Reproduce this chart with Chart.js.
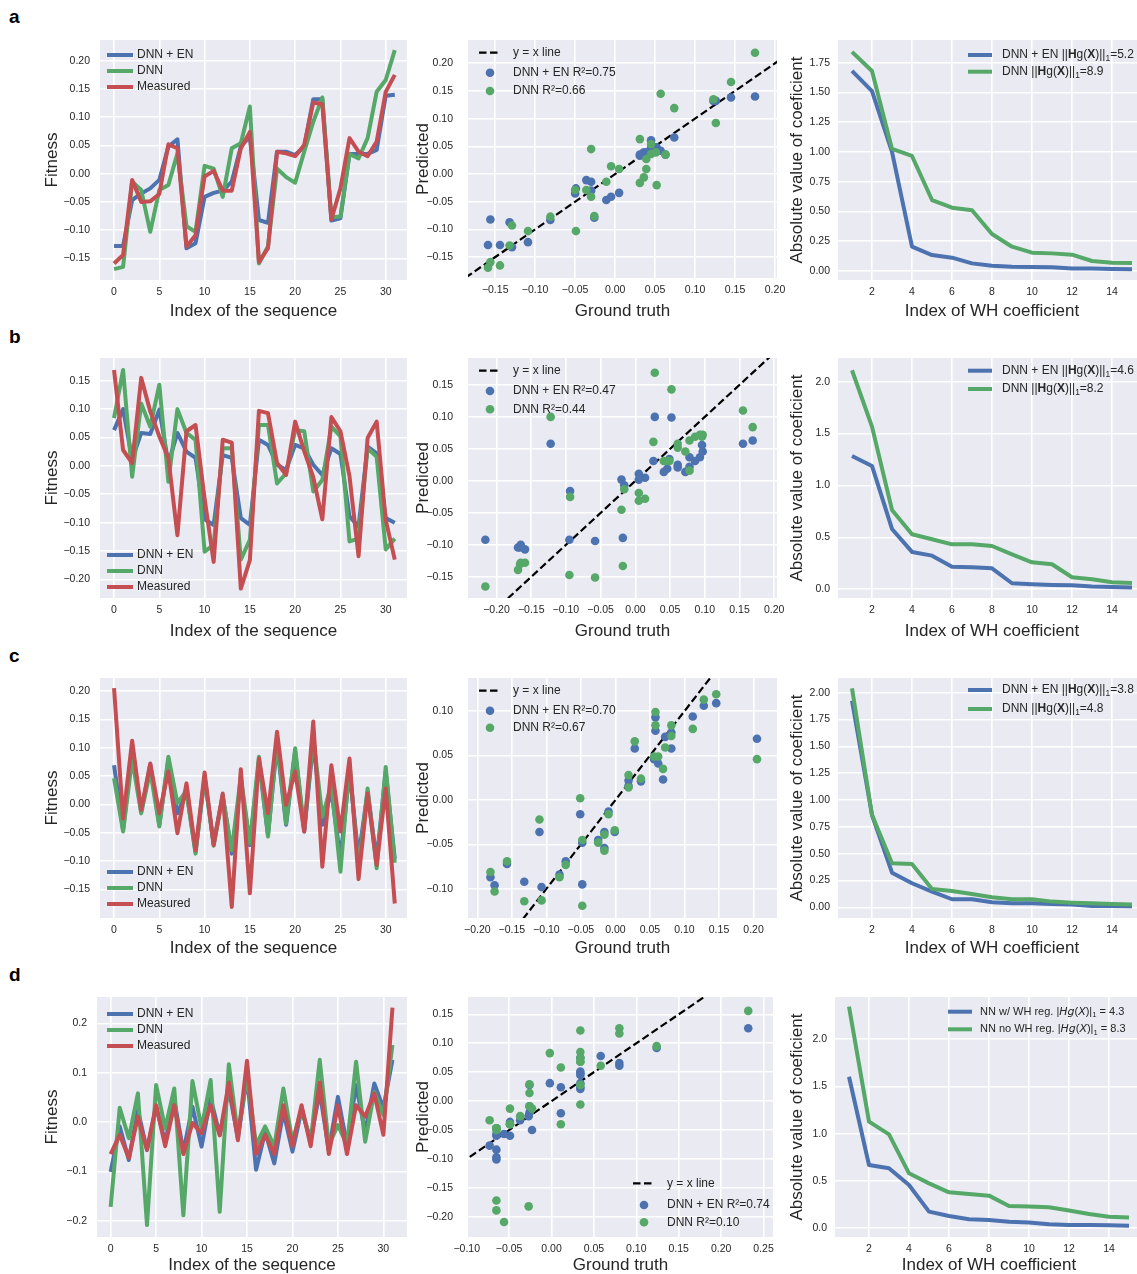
<!DOCTYPE html>
<html>
<head>
<meta charset="utf-8">
<script src="https://cdn.jsdelivr.net/npm/chart.js@4.4.1/dist/chart.umd.min.js"></script>
<style>
  html, body { margin: 0; padding: 0; background: #fff; overflow: hidden; }
  #fig { position: relative; width: 1137px; height: 1274px; overflow: hidden; }
  .tag { position: absolute; font: bold 19px "Liberation Sans", Arial, sans-serif; line-height: 19px; color: #000; }
  canvas { position: absolute; }
</style>
</head>
<body>
<div id="fig">
  <div class="tag" style="left:9px;top:7px">a</div>
  <div class="tag" style="left:9px;top:327px">b</div>
  <div class="tag" style="left:9px;top:646px">c</div>
  <div class="tag" style="left:9px;top:965px">d</div>
</div>
<script>
// ---- data ----
const seqIdx = [0,1,2,3,4,5,6,7,8,9,10,11,12,13,14,15,16,17,18,19,20,21,22,23,24,25,26,27,28,29,30,31];
const whIdx = [1,2,3,4,5,6,7,8,9,10,11,12,13,14,15];

// panel a
const measA = [-0.159,-0.144,-0.011,-0.050,-0.049,-0.036,0.052,0.045,-0.129,-0.109,-0.005,0.005,-0.030,-0.030,0.045,0.074,-0.156,-0.132,0.039,0.036,0.031,0.051,0.126,0.123,-0.081,-0.026,0.063,0.039,0.031,0.057,0.145,0.175];
const enA = [-0.128,-0.128,-0.047,-0.035,-0.026,-0.011,0.048,0.061,-0.132,-0.123,-0.041,-0.034,-0.030,-0.014,0.048,0.066,-0.082,-0.087,0.039,0.039,0.033,0.048,0.132,0.132,-0.083,-0.079,0.035,0.035,0.035,0.042,0.138,0.140];
const dnnA = [-0.169,-0.165,-0.014,-0.029,-0.103,-0.029,-0.020,0.036,-0.093,-0.103,0.014,0.009,-0.041,0.045,0.054,0.119,-0.159,-0.129,0.009,-0.006,-0.016,0.039,0.092,0.135,-0.077,-0.076,0.035,0.027,0.063,0.145,0.166,0.219];
const whEnA = [1.68,1.51,1.00,0.204,0.134,0.112,0.064,0.045,0.036,0.034,0.031,0.020,0.020,0.017,0.014];
const whDnnA = [1.84,1.68,1.025,0.966,0.596,0.532,0.510,0.311,0.204,0.154,0.148,0.137,0.084,0.070,0.067];

// panel b
const measB = [0.169,0.028,0.005,0.155,0.096,0.052,0.014,-0.122,0.061,0.072,-0.058,-0.169,0.046,0.041,-0.216,-0.166,0.097,0.093,0.005,-0.016,0.078,0.026,-0.020,-0.094,0.086,0.061,-0.018,-0.159,0.049,0.078,-0.095,-0.165];
const enB = [0.063,0.100,0.011,0.058,0.056,0.099,0.005,0.058,0.025,0.014,-0.094,-0.104,0.019,0.014,-0.092,-0.104,0.046,0.037,0.002,-0.007,0.037,0.031,0.002,-0.016,0.031,0.021,-0.089,-0.107,0.034,0.022,-0.092,-0.100];
const dnnB = [0.084,0.169,-0.019,0.110,0.069,0.143,-0.028,0.100,0.058,0.046,-0.151,-0.139,0.031,0.031,-0.165,-0.130,0.072,0.072,-0.031,-0.013,0.063,0.061,-0.045,-0.025,0.069,0.052,-0.133,-0.128,0.031,0.016,-0.147,-0.128];
const whEnB = [1.284,1.188,0.581,0.360,0.324,0.218,0.212,0.202,0.058,0.048,0.042,0.039,0.026,0.022,0.016];
const whDnnB = [2.11,1.567,0.764,0.530,0.482,0.433,0.433,0.417,0.337,0.260,0.241,0.116,0.096,0.067,0.061];

// panel c
const measC = [0.205,-0.025,0.112,-0.010,0.072,-0.016,0.058,-0.051,0.037,-0.081,0.056,-0.072,0.019,-0.181,0.062,-0.157,0.081,-0.016,0.128,-0.001,0.058,-0.048,0.146,-0.110,0.069,-0.048,0.081,-0.132,0.019,-0.107,0.028,-0.175];
const enC = [0.069,-0.045,0.094,-0.013,0.071,-0.036,0.078,-0.016,0.021,-0.084,0.046,-0.069,0.016,-0.087,0.041,-0.072,0.076,-0.054,0.106,-0.036,0.093,-0.048,0.109,-0.036,0.023,-0.095,0.058,-0.092,0.022,-0.098,0.058,-0.096];
const dnnC = [0.046,-0.048,0.080,-0.016,0.059,-0.039,0.084,0.002,0.024,-0.087,0.049,-0.073,0.014,-0.081,0.049,-0.069,0.084,-0.057,0.113,-0.034,0.099,-0.045,0.119,-0.022,0.035,-0.119,0.072,-0.114,0.028,-0.113,0.066,-0.103];
const whEnC = [1.925,0.860,0.323,0.224,0.146,0.075,0.075,0.047,0.037,0.037,0.031,0.025,0.012,0.012,0.009];
const whDnnC = [2.04,0.860,0.410,0.404,0.171,0.152,0.124,0.093,0.075,0.075,0.053,0.043,0.037,0.031,0.025];

// panel d
const measD = [-0.065,-0.026,-0.073,0.011,-0.056,0.034,-0.049,0.034,-0.065,-0.002,-0.023,0.034,-0.027,0.080,-0.037,0.124,-0.065,-0.026,-0.065,0.034,-0.049,0.034,-0.049,0.080,-0.065,0.034,-0.065,0.034,0.011,0.058,-0.026,0.232];
const enD = [-0.101,-0.009,-0.077,0.024,-0.057,0.031,-0.040,0.045,-0.060,0.031,-0.050,0.048,-0.026,0.066,-0.033,0.092,-0.097,-0.020,-0.084,0.021,-0.060,0.024,-0.036,0.061,-0.057,0.051,-0.047,0.075,-0.021,0.078,0.028,0.126];
const dnnD = [-0.172,0.029,-0.033,0.058,-0.209,0.075,-0.013,0.068,-0.189,0.083,-0.013,0.085,-0.182,0.117,-0.026,0.095,-0.047,-0.009,-0.050,0.068,-0.040,0.028,-0.040,0.126,-0.047,-0.006,-0.047,0.122,-0.040,0.061,0.014,0.156];
const whEnD = [1.602,0.669,0.634,0.458,0.176,0.130,0.095,0.088,0.070,0.060,0.042,0.035,0.035,0.032,0.028];
const whDnnD = [2.342,1.127,0.993,0.581,0.475,0.380,0.363,0.345,0.236,0.229,0.222,0.187,0.151,0.123,0.113];

// y = x reference line end points
const diagLine = [-0.3, 0.3];

// tick labels
const seqTicks = [0,5,10,15,20,25,30];
const whTicks = [2,4,6,8,10,12,14];
const fitTicksA = [-0.15,-0.10,-0.05,0,0.05,0.10,0.15,0.20];
const fitTicksB = [-0.20,-0.15,-0.10,-0.05,0,0.05,0.10,0.15];
const fitTicksC = [-0.15,-0.10,-0.05,0,0.05,0.10,0.15,0.20];
const fitTicksD = [-0.2,-0.1,0,0.1,0.2];
const gtTicksA = [-0.15,-0.10,-0.05,0,0.05,0.10,0.15,0.20];
const gtTicksB = [-0.20,-0.15,-0.10,-0.05,0,0.05,0.10,0.15,0.20];
const gtTicksC = [-0.20,-0.15,-0.10,-0.05,0,0.05,0.10,0.15,0.20];
const gtTicksD = [-0.10,-0.05,0,0.05,0.10,0.15,0.20,0.25];
const predTicksA = [-0.15,-0.10,-0.05,0,0.05,0.10,0.15,0.20];
const predTicksB = [-0.15,-0.10,-0.05,0,0.05,0.10,0.15];
const predTicksC = [-0.10,-0.05,0,0.05,0.10];
const predTicksD = [-0.20,-0.15,-0.10,-0.05,0,0.05,0.10,0.15];
const absTicksA = [0,0.25,0.5,0.75,1,1.25,1.5,1.75];
const absTicksB = [0,0.5,1,1.5,2];
const absTicksC = [0,0.25,0.5,0.75,1,1.25,1.5,1.75,2];
const absTicksD = [0,0.5,1,1.5,2];

// ---- styling ----
const BLUE = '#4C72B0', GREEN = '#55A868', RED = '#C44E52', BG = '#EAEAF2', INK = '#262626';
const FAMILY = '"Liberation Sans", Arial, Helvetica, sans-serif';
const fig = document.getElementById('fig');

function fmt(dec) {
  return v => (v < 0 ? '\u2212' : '') + Math.abs(v).toFixed(dec);
}
function pts(xs, ys) {
  return ys.map((y, i) => ({x: xs[i], y: y}));
}

// plot background
const bgPlugin = {
  id: 'bg',
  beforeDraw(chart) {
    const a = chart.chartArea, ctx = chart.ctx;
    ctx.save();
    ctx.fillStyle = BG;
    ctx.fillRect(a.left, a.top, a.right - a.left, a.bottom - a.top);
    ctx.restore();
  }
};

// text with **bold**, *italic* and _1 subscript
function drawRich(ctx, src, x, y, size) {
  const re = /\*\*(.+?)\*\*|\*(.+?)\*|_(\w)|([^*_]+)/g;
  let m;
  while ((m = re.exec(src))) {
    let font = size + 'px ' + FAMILY, dy = 0, text;
    if (m[1]) { text = m[1]; font = 'bold ' + size + 'px ' + FAMILY; }
    else if (m[2]) { text = m[2]; font = 'italic ' + size + 'px "DejaVu Sans", sans-serif'; }
    else if (m[3]) { text = m[3]; font = (size * 0.7) + 'px ' + FAMILY; dy = size * 0.3; }
    else text = m[4];
    ctx.font = font;
    ctx.fillText(text, x, y + dy);
    x += ctx.measureText(text).width;
  }
}

// legend drawn inside the plot area, like matplotlib
const fancyLegend = {
  id: 'fancyLegend',
  afterDraw(chart, args, opts) {
    if (!opts.rows) return;
    const ctx = chart.ctx, a = chart.chartArea;
    ctx.save();
    ctx.textBaseline = 'middle';
    ctx.textAlign = 'left';
    chart.data.datasets.forEach((ds, i) => {
      const y = a.top + opts.rows[i];
      if (ds.kind === 'dot') {
        ctx.fillStyle = ds.backgroundColor;
        ctx.beginPath();
        ctx.arc(a.left + opts.marker, y, ds.pointRadius, 0, Math.PI * 2);
        ctx.fill();
      } else {
        ctx.strokeStyle = ds.borderColor;
        ctx.lineWidth = ds.borderWidth;
        ctx.setLineDash(ds.borderDash || []);
        ctx.beginPath();
        ctx.moveTo(a.left + opts.h0, y);
        ctx.lineTo(a.left + opts.h1, y);
        ctx.stroke();
        ctx.setLineDash([]);
      }
      ctx.fillStyle = INK;
      drawRich(ctx, ds.rich || ds.label, a.left + opts.text, y, opts.size || 12);
    });
    ctx.restore();
  }
};

function axis(a, size, dir) {
  return {
    type: 'linear',
    min: a.min,
    max: a.max,
    grid: {color: '#ffffff', lineWidth: 1.6, drawTicks: false},
    border: {display: false},
    ticks: {
      color: INK, font: {family: FAMILY, size: 10.5}, padding: a.pad,
      autoSkip: false, maxRotation: 0, callback: fmt(a.dec)
    },
    title: {display: true, text: a.title, color: INK, font: {family: FAMILY, size: 17}, padding: 0},
    afterBuildTicks: s => { s.ticks = a.ticks.map(v => ({value: v})); },
    afterFit: s => {
      if (dir === 'x') s.height = size; else s.width = size;
      s.paddingLeft = s.paddingRight = s.paddingTop = s.paddingBottom = 0;
    }
  };
}

function addPanel(p) {
  const cl = Math.round(p.titleX - 10), ct = p.box.t - 12;
  const cw = p.box.r + p.padR - cl;
  const ch = Math.round(p.titleY + 10) - ct;
  const yW = p.box.l - cl, xH = ch - (p.box.b - ct);
  const cv = document.createElement('canvas');
  cv.width = cw;
  cv.height = ch;
  cv.style.left = cl + 'px';
  cv.style.top = ct + 'px';
  fig.appendChild(cv);
  new Chart(cv, {
    type: p.type,
    data: {datasets: p.datasets},
    options: {
      responsive: false,
      animation: false,
      events: [],
      layout: {padding: {top: 12, right: p.padR, left: 0, bottom: 0}},
      plugins: {legend: {display: false}, tooltip: {enabled: false}, fancyLegend: p.legend},
      scales: {x: axis(p.x, xH, 'x'), y: axis(p.y, yW, 'y')}
    },
    plugins: [bgPlugin, fancyLegend]
  });
}

// ---- left column: fitness along the sequence ----
function seqSets(en, dnn, meas) {
  const base = {borderWidth: 4, pointRadius: 0, tension: 0, fill: false, borderJoinStyle: 'round', kind: 'line'};
  return [
    Object.assign({label: 'DNN + EN', data: pts(seqIdx, en), borderColor: BLUE, order: 2}, base),
    Object.assign({label: 'DNN', data: pts(seqIdx, dnn), borderColor: GREEN, order: 1}, base),
    Object.assign({label: 'Measured', data: pts(seqIdx, meas), borderColor: RED, order: 0}, base)
  ];
}
const seqX = {min: -1.55, max: 32.35, ticks: seqTicks, dec: 0, pad: 6, title: 'Index of the sequence'};
addPanel({type: 'line', titleX: 52, titleY: 311.5, padR: 4, box: {l: 100, t: 40, r: 407, b: 280},
  x: seqX, y: {min: -0.1883, max: 0.2368, ticks: fitTicksA, dec: 2, pad: 10, title: 'Fitness'},
  datasets: seqSets(enA, dnnA, measA), legend: {rows: [15, 31, 47], h0: 7, h1: 33, text: 37}});
addPanel({type: 'line', titleX: 52, titleY: 631.5, padR: 4, box: {l: 100, t: 358, r: 407, b: 598},
  x: seqX, y: {min: -0.2326, max: 0.190, ticks: fitTicksB, dec: 2, pad: 10, title: 'Fitness'},
  datasets: seqSets(enB, dnnB, measB), legend: {rows: [197, 213, 229], h0: 7, h1: 33, text: 37}});
addPanel({type: 'line', titleX: 52, titleY: 948.5, padR: 4, box: {l: 100, t: 678, r: 407, b: 918},
  x: seqX, y: {min: -0.2006, max: 0.2229, ticks: fitTicksC, dec: 2, pad: 10, title: 'Fitness'},
  datasets: seqSets(enC, dnnC, measC), legend: {rows: [194, 210, 226], h0: 7, h1: 33, text: 37}});
addPanel({type: 'line', titleX: 52, titleY: 1265.5, padR: 4, box: {l: 97, t: 997, r: 407, b: 1237},
  x: {min: -1.5, max: 32.6, ticks: seqTicks, dec: 0, pad: 6, title: 'Index of the sequence'},
  y: {min: -0.2331, max: 0.2534, ticks: fitTicksD, dec: 1, pad: 10, title: 'Fitness'},
  datasets: seqSets(enD, dnnD, measD), legend: {rows: [17, 33, 49], h0: 10, h1: 36, text: 40}});

// ---- middle column: predicted vs ground truth ----
function scatterSets(meas, en, dnn, r2en, r2dnn) {
  return [
    {type: 'line', label: 'y = x line', data: pts(diagLine, diagLine), borderColor: '#000000', borderWidth: 2.2,
      borderDash: [7.5, 3.5], pointRadius: 0, fill: false, order: 2, kind: 'dash'},
    {label: 'DNN + EN R\u00b2=' + r2en, data: pts(meas, en), backgroundColor: BLUE, borderWidth: 0,
      pointRadius: 4.3, order: 1, kind: 'dot'},
    {label: 'DNN R\u00b2=' + r2dnn, data: pts(meas, dnn), backgroundColor: GREEN, borderWidth: 0,
      pointRadius: 4.3, order: 0, kind: 'dot'}
  ];
}
const midLegend = {h0: 11, h1: 32, marker: 22, text: 45};
addPanel({type: 'scatter', titleX: 423, titleY: 311.5, padR: 12, box: {l: 468, t: 40, r: 777, b: 278},
  x: {min: -0.184, max: 0.2025, ticks: gtTicksA, dec: 2, pad: 6, title: 'Ground truth'},
  y: {min: -0.1877, max: 0.2419, ticks: predTicksA, dec: 2, pad: 15, title: 'Predicted'},
  datasets: scatterSets(measA, enA, dnnA, '0.75', '0.66'), legend: Object.assign({rows: [12.7, 32.7, 51]}, midLegend)});
addPanel({type: 'scatter', titleX: 423, titleY: 631.5, padR: 12, box: {l: 468, t: 358, r: 777, b: 598},
  x: {min: -0.241, max: 0.204, ticks: gtTicksB, dec: 2, pad: 6, title: 'Ground truth'},
  y: {min: -0.183, max: 0.192, ticks: predTicksB, dec: 2, pad: 15, title: 'Predicted'},
  datasets: scatterSets(measB, enB, dnnB, '0.47', '0.44'), legend: Object.assign({rows: [12.7, 33, 51.3]}, midLegend)});
addPanel({type: 'scatter', titleX: 423, titleY: 948.5, padR: 12, box: {l: 468, t: 678, r: 777, b: 918},
  x: {min: -0.2135, max: 0.234, ticks: gtTicksC, dec: 2, pad: 6, title: 'Ground truth'},
  y: {min: -0.1328, max: 0.1373, ticks: predTicksC, dec: 2, pad: 15, title: 'Predicted'},
  datasets: scatterSets(measC, enC, dnnC, '0.70', '0.67'), legend: Object.assign({rows: [12.7, 32.7, 49.7]}, midLegend)});
addPanel({type: 'scatter', titleX: 423, titleY: 1265.5, padR: 12, box: {l: 468, t: 997, r: 773, b: 1237},
  x: {min: -0.0985, max: 0.2612, ticks: gtTicksD, dec: 2, pad: 6, title: 'Ground truth'},
  y: {min: -0.235, max: 0.180, ticks: predTicksD, dec: 2, pad: 15, title: 'Predicted'},
  datasets: scatterSets(measD, enD, dnnD, '0.74', '0.10'),
  legend: {rows: [186.3, 208, 225.3], h0: 165, h1: 187, marker: 176, text: 199}});

// ---- right column: WH coefficients ----
function whSets(en, dnn, labEn, labDnn, richEn, richDnn) {
  const base = {borderWidth: 4, pointRadius: 0, tension: 0, fill: false, borderJoinStyle: 'round', kind: 'line'};
  return [
    Object.assign({label: labEn, rich: richEn, data: pts(whIdx, en), borderColor: BLUE, order: 1}, base),
    Object.assign({label: labDnn, rich: richDnn, data: pts(whIdx, dnn), borderColor: GREEN, order: 0}, base)
  ];
}
const whX = {min: 0.3, max: 15.7, ticks: whTicks, dec: 0, pad: 6, title: 'Index of WH coefficient'};
const whTitle = 'Absolute value of coeficient';
const rightLegend = {h0: 130, h1: 154, text: 164};
addPanel({type: 'line', titleX: 797, titleY: 311.5, padR: 0, box: {l: 838, t: 40, r: 1146, b: 280},
  x: whX, y: {min: -0.0756, max: 1.940, ticks: absTicksA, dec: 2, pad: 8, title: whTitle},
  datasets: whSets(whEnA, whDnnA, 'DNN + EN ||Hg(X)||\u2081=5.2', 'DNN ||Hg(X)||\u2081=8.9',
    'DNN + EN ||**H**g(**X**)||_1=5.2', 'DNN ||**H**g(**X**)||_1=8.9'),
  legend: Object.assign({rows: [15, 31.7]}, rightLegend)});
addPanel({type: 'line', titleX: 797, titleY: 631.5, padR: 0, box: {l: 838, t: 358, r: 1146, b: 598},
  x: whX, y: {min: -0.084, max: 2.228, ticks: absTicksB, dec: 1, pad: 8, title: whTitle},
  datasets: whSets(whEnB, whDnnB, 'DNN + EN ||Hg(X)||\u2081=4.6', 'DNN ||Hg(X)||\u2081=8.2',
    'DNN + EN ||**H**g(**X**)||_1=4.6', 'DNN ||**H**g(**X**)||_1=8.2'),
  legend: Object.assign({rows: [12.7, 31]}, rightLegend)});
addPanel({type: 'line', titleX: 797, titleY: 948.5, padR: 0, box: {l: 838, t: 678, r: 1146, b: 918},
  x: whX, y: {min: -0.0997, max: 2.137, ticks: absTicksC, dec: 2, pad: 8, title: whTitle},
  datasets: whSets(whEnC, whDnnC, 'DNN + EN ||Hg(X)||\u2081=3.8', 'DNN ||Hg(X)||\u2081=4.8',
    'DNN + EN ||**H**g(**X**)||_1=3.8', 'DNN ||**H**g(**X**)||_1=4.8'),
  legend: Object.assign({rows: [12, 31]}, rightLegend)});
addPanel({type: 'line', titleX: 797, titleY: 1265.5, padR: 0, box: {l: 835, t: 997, r: 1143, b: 1237},
  x: whX, y: {min: -0.092, max: 2.444, ticks: absTicksD, dec: 1, pad: 8, title: whTitle},
  datasets: whSets(whEnD, whDnnD, 'NN w/ WH reg. |Hg(X)|\u2081 = 4.3', 'NN no WH reg. |Hg(X)|\u2081 = 8.3',
    'NN w/ WH reg. |*Hg*(*X*)|_1 = 4.3', 'NN no WH reg. |*Hg*(*X*)|_1 = 8.3'),
  legend: {rows: [14.7, 32.3], h0: 113, h1: 137, text: 145, size: 11}});
</script>
</body>
</html>
